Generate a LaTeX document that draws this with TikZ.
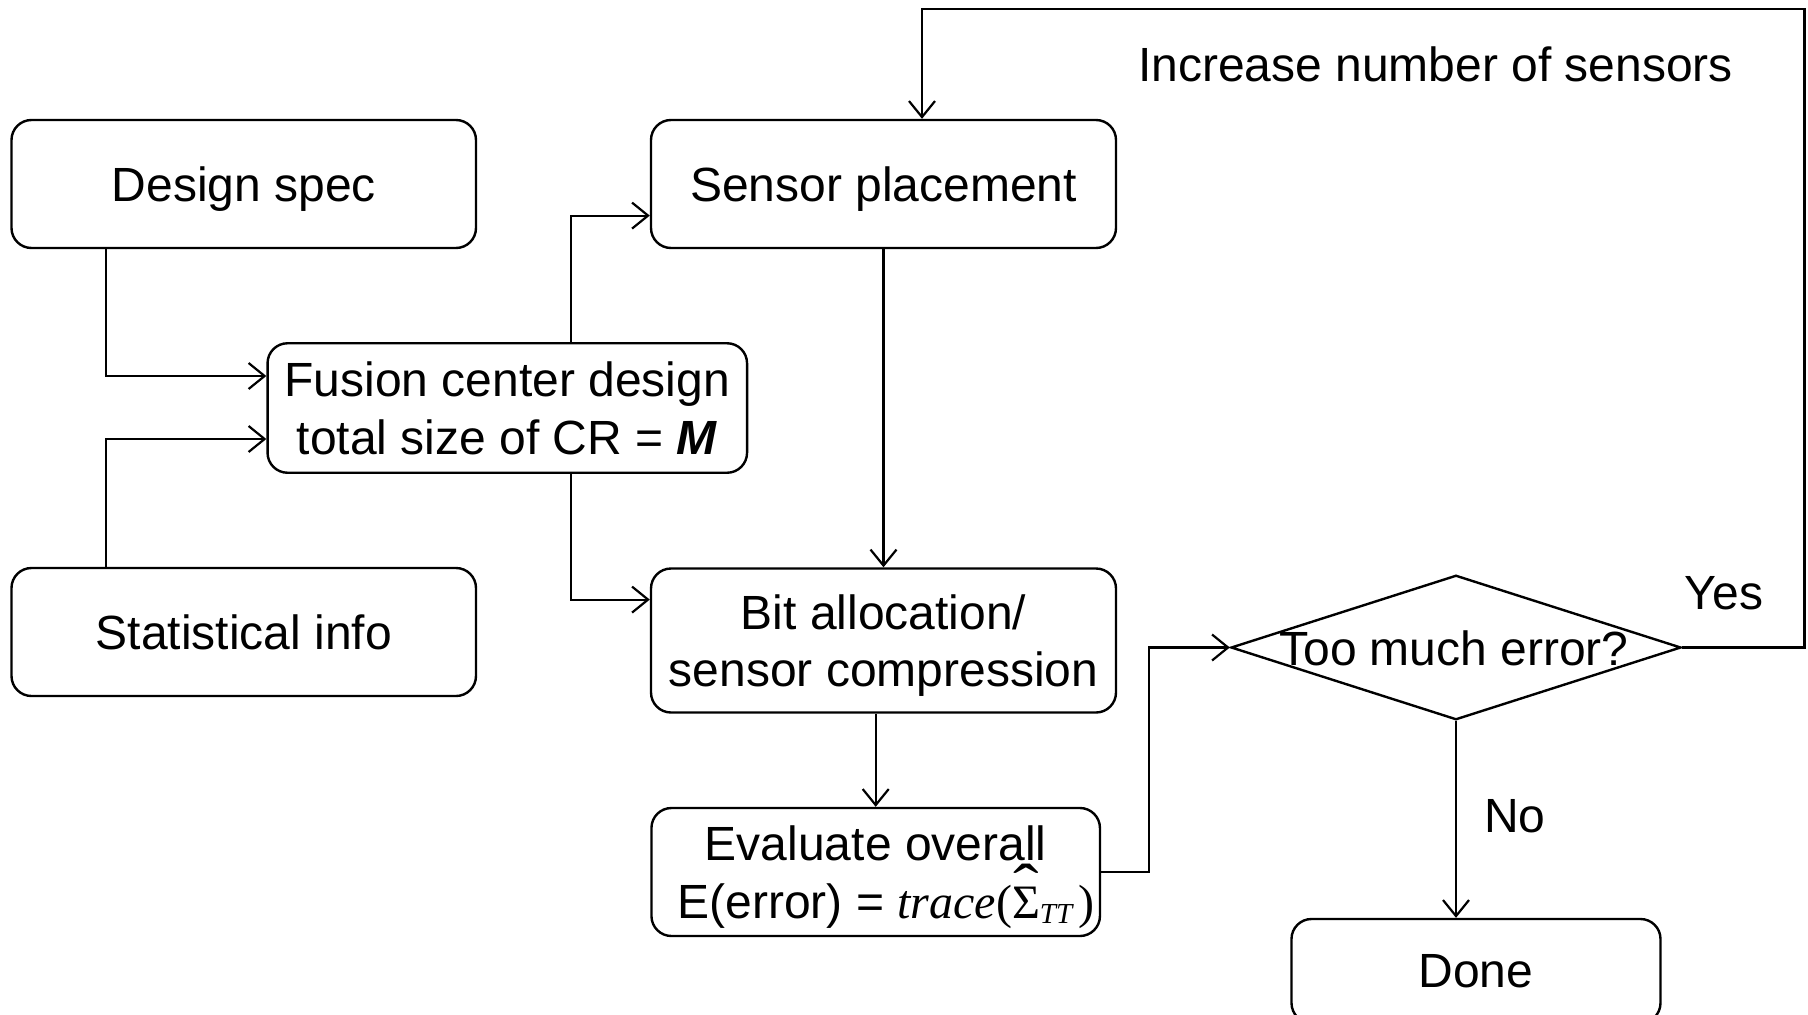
\documentclass[tikz,border=0pt]{standalone}
\usepackage{fontspec}
\usepackage{graphicx}
\setmainfont{Liberation Sans}
\newfontfamily\tnr{Liberation Serif}
\usetikzlibrary{arrows.meta,shapes.geometric}
\newcommand{\sighat}{\rlap{\raisebox{0.22em}{\kern0.02em\scalebox{1.6}[1.3]{\char"02C6}}}Σ}
\begin{document}
\begin{tikzpicture}[x=1pt,y=-1pt,
  every node/.style={font=\fontsize{48}{57.6}\selectfont, inner sep=0pt},
  box/.style={draw, line width=2.4pt, rounded corners=20pt, align=center, text depth=0pt},
  arr/.style={line width=2.2pt, -{Straight Barb[length=16pt,width=26pt,line width=2.2pt]}},
  ln/.style={line width=2.2pt}]
\useasboundingbox (0,0) rectangle (1808,1015);
\node[box, minimum width=464.5pt, minimum height=128pt] (design) at (243.75,184) {Design spec};
\node[box, minimum width=464.5pt, minimum height=128pt] (stat) at (243.75,632) {Statistical info};
\node[box, minimum width=479.5pt, minimum height=129.5pt] (fusion) at (507.3,408) {Fusion center design\\total size of CR = \textbf{\textit{M}}};
\node[box, minimum width=465pt, minimum height=128pt] (sensor) at (883.5,184) {Sensor placement};
\node[box, minimum width=465pt, minimum height=144pt] (bit) at (883.5,640.5) {Bit allocation/\\sensor compression};
\node[box, minimum width=448.5pt, minimum height=128pt] (eval) at (875.7,872) {Evaluate overall\\\hspace*{20pt}E(error) = {\tnr\itshape trace\upshape(\sighat\raisebox{-0.12em}{\fontsize{29}{29}\selectfont\itshape TT}\kern0.12em)}};
\node[draw, line width=2.4pt, shape=diamond, minimum width=450pt, minimum height=144.5pt] (dia) at (1456,647.5) {};
\node (diatext) at (1454,648) {Too much error?};
\node[box, minimum width=369pt, minimum height=104pt] (done) at (1476,971) {Done};
\node (inc) at (1435.5,64.6) {Increase number of sensors};
\node (yes) at (1724,593) {Yes};
\node (no) at (1515,816) {No};
\coordinate (tr) at (1804.5,9);
\draw[arr] ([xshift=95.5pt]design.south west) |- ([yshift=32pt]fusion.west);
\draw[arr] ([xshift=95.5pt]stat.north west) |- ([yshift=-31pt]fusion.west);
\draw[arr] ([xshift=304.5pt]fusion.north west) |- ([yshift=-31.6pt]sensor.west);
\draw[arr] ([xshift=304.5pt]fusion.south west) |- ([yshift=40.9pt]bit.west);
\draw[arr] (sensor.south) -- (bit.north);
\draw[arr] (bit.south -| eval.north) -- (eval.north);
\draw[arr] (eval.east) -- ++(48,0) |- (dia.west);
\draw[arr] (dia.east) -| (tr) -| ([xshift=38.5pt]sensor.north);
\draw[arr] (dia.south) -- (dia.south |- done.north);
\end{tikzpicture}
\end{document}
